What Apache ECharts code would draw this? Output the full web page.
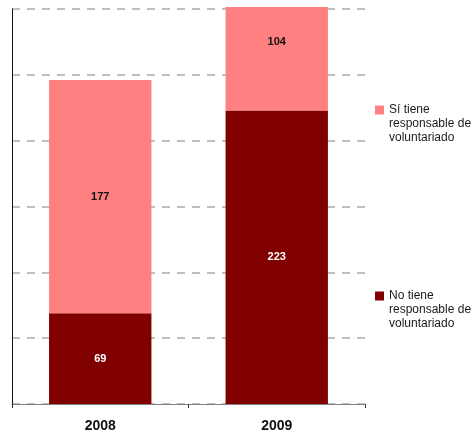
<!DOCTYPE html>
<html><head><meta charset="utf-8">
<script src="https://cdn.jsdelivr.net/npm/echarts@6/dist/echarts.min.js"></script>
<style>html,body{margin:0;padding:0;background:#fff}#c{width:475px;height:434px}</style>
</head><body><div id="c"></div>
<script>
const categories = ['2008', '2009'];
const noTiene = [69, 223];
const siTiene = [177, 104];
const seriesNames = ['No tiene\nresponsable de\nvoluntariado', 'Sí tiene\nresponsable de\nvoluntariado'];
const yMax = 300, yInterval = 50;

const chart = echarts.init(document.getElementById('c'), null, {renderer: 'canvas'});
const legendText = {color: '#1a1a1a', fontSize: 12, fontFamily: 'Liberation Sans, Arial, sans-serif', lineHeight: 14};
const legendBase = {orient: 'vertical', padding: 0, itemWidth: 9, itemHeight: 9, icon: 'rect', textStyle: legendText, selectedMode: false,
  formatter: function (n) { return '\n\n' + n; }};
chart.setOption({
  animation: false,
  backgroundColor: '#fff',
  grid: {left: 12, right: 110, top: 9, bottom: 30},
  legend: [
    Object.assign({data: [seriesNames[1]], left: 375, top: 75}, legendBase),
    Object.assign({data: [seriesNames[0]], left: 375, top: 261}, legendBase)
  ],
  xAxis: {
    type: 'category', data: categories,
    axisLine: {lineStyle: {color: '#808080', width: 1}},
    axisTick: {show: true, length: 4, lineStyle: {color: '#333'}},
    axisLabel: {color: '#111', fontWeight: 'bold', fontSize: 14, fontFamily: 'Liberation Sans, Arial, sans-serif', margin: 15}
  },
  yAxis: {
    type: 'value', min: 0, max: yMax, interval: yInterval,
    axisLine: {show: true, lineStyle: {color: '#111', width: 1}},
    axisTick: {show: false},
    axisLabel: {show: false},
    splitLine: {show: true, lineStyle: {color: '#ababab', width: 1.6, type: [8, 7]}}
  },
  series: [
    {name: seriesNames[0], type: 'bar', stack: 'a', data: noTiene, barWidth: '58%', clip: false,
     itemStyle: {color: '#800000'},
     label: {show: true, position: 'inside', color: '#fff', fontWeight: 'bold', fontSize: 11, fontFamily: 'Liberation Sans, Arial, sans-serif'}},
    {name: seriesNames[1], type: 'bar', stack: 'a', data: siTiene, barWidth: '58%', clip: false,
     itemStyle: {color: '#FF8080'},
     label: {show: true, position: 'inside', color: '#111', fontWeight: 'bold', fontSize: 11, fontFamily: 'Liberation Sans, Arial, sans-serif'}}
  ],
  graphic: [{type: 'rect', left: 0, top: 0, shape: {width: 475, height: 7}, style: {fill: '#fff'}, z: 100}]
});
</script></body></html>
